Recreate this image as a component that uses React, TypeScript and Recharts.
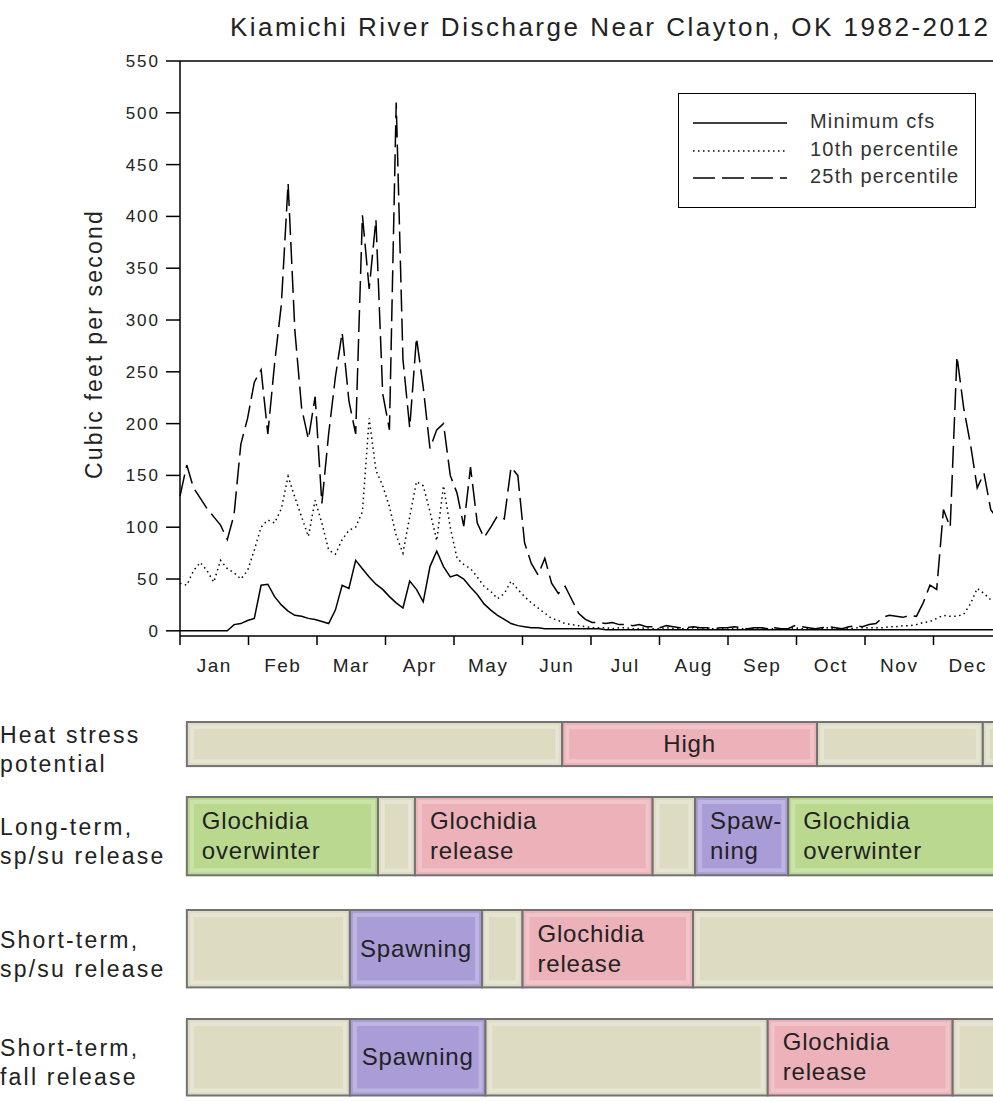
import React from 'react';
import { LineChart, Line, XAxis, YAxis, ReferenceLine, Legend, BarChart, Bar } from 'recharts';

// ---- discharge (cfs), one value every 3 days from Jan 1 ----
const STEP_DAYS = 3;

const p25 = [
  130, 160, 138, 128, 118, 110, 102, 88, 112, 180, 205, 240, 252, 190, 258, 315, 432, 290, 215, 185,
  226, 123, 190, 245, 288, 222, 190, 401, 330, 397, 229, 194, 510, 262, 196, 283, 235, 176, 194, 200,
  150, 133, 101, 158, 104, 90, 100, 111, 108, 158, 150, 85, 65, 54, 70, 46, 36, 43, 30, 17,
  11, 8, 8, 7, 8, 6, 6, 5, 6, 4, 4, 3, 5, 4, 3, 3, 4, 3, 3, 2,
  3, 3, 4, 3, 2, 3, 3, 2, 3, 2, 2, 5, 4, 3, 2, 3, 4, 3, 2, 4,
  5, 4, 6, 7, 13, 15, 14, 13, 15, 14, 27, 44, 40, 117, 100, 265, 215, 180, 138, 152,
  117, 108,
];

const p10 = [
  46, 44, 58, 66, 58, 47, 68, 60, 56, 50, 58, 78, 100, 107, 104, 118, 149, 129, 110, 91,
  126, 104, 78, 74, 88, 97, 100, 115, 205, 155, 140, 120, 92, 75, 110, 144, 140, 115, 87, 140,
  100, 70, 64, 60, 52, 43, 38, 31, 36, 48, 40, 33, 27, 22, 17, 12, 10, 7, 6, 5,
  4, 3, 3, 3, 2, 3, 3, 2, 2, 3, 2, 2, 3, 2, 2, 2, 3, 2, 2, 2,
  2, 3, 2, 2, 2, 2, 3, 2, 2, 2, 2, 3, 2, 2, 2, 2, 3, 2, 2, 2,
  3, 3, 3, 3, 3, 4, 4, 5, 5, 6, 8, 9, 12, 15, 14, 14, 16, 26, 41, 36,
  30, 26,
];

const minCfs = [
  0, 0, 0, 0, 0, 0, 0, 0, 6, 7, 10, 12, 44, 45, 33, 25, 19, 15, 14, 12,
  11, 9, 7, 20, 44, 41, 68, 60, 52, 45, 40, 33, 27, 22, 48, 40, 28, 62, 77, 62,
  52, 54, 50, 42, 35, 26, 20, 15, 11, 7, 5, 4, 3, 3, 2, 2, 2, 2, 2, 2,
  2, 2, 2, 1, 1, 1, 1, 1, 1, 1, 1, 1, 1, 1, 1, 1, 1, 1, 1, 1,
  1, 1, 1, 1, 1, 1, 1, 1, 1, 1, 1, 1, 1, 1, 1, 1, 1, 1, 1, 1,
  1, 1, 1, 1, 1, 1, 1, 1, 1, 1, 1, 1, 1, 1, 1, 1, 1, 1, 1, 1,
  1, 1,
];

const months = ['Jan', 'Feb', 'Mar', 'Apr', 'May', 'Jun', 'Jul', 'Aug', 'Sep', 'Oct', 'Nov', 'Dec'];
const yTicks = [0, 50, 100, 150, 200, 250, 300, 350, 400, 450, 500, 550];

const series = [
  { key: 'min', name: 'Minimum cfs', dash: undefined as string | undefined },
  { key: 'p10', name: '10th percentile', dash: '1.5 3.5' },
  { key: 'p25', name: '25th percentile', dash: '22 7' },
];

const flowData = p25.map((v, i) => ({ day: i * STEP_DAYS, p25: v, p10: p10[i], min: minCfs[i] }));
const monthEdges = [...months.map((_, i) => (i * 365) / 12), 365];

// ---- life-history bars, boundaries in months on the same axis ----
type Seg = { label: string; kind: 'none' | 'high' | 'release' | 'overwinter' | 'spawning'; end: number };
const ROW_START = 0.1;

const heatStress: Seg[] = [
  { label: '', kind: 'none', end: 5.58 },
  { label: 'High', kind: 'high', end: 9.3 },
  { label: '', kind: 'none', end: 11.72 },
  { label: '', kind: 'none', end: 12 },
];
const longTerm: Seg[] = [
  { label: 'Glochidia|overwinter', kind: 'overwinter', end: 2.89 },
  { label: '', kind: 'none', end: 3.43 },
  { label: 'Glochidia|release', kind: 'release', end: 6.9 },
  { label: '', kind: 'none', end: 7.52 },
  { label: 'Spaw-|ning', kind: 'spawning', end: 8.88 },
  { label: 'Glochidia|overwinter', kind: 'overwinter', end: 12 },
];
const shortSpring: Seg[] = [
  { label: '', kind: 'none', end: 2.48 },
  { label: 'Spawning', kind: 'spawning', end: 4.41 },
  { label: '', kind: 'none', end: 5.0 },
  { label: 'Glochidia|release', kind: 'release', end: 7.49 },
  { label: '', kind: 'none', end: 12 },
];
const shortFall: Seg[] = [
  { label: '', kind: 'none', end: 2.48 },
  { label: 'Spawning', kind: 'spawning', end: 4.46 },
  { label: '', kind: 'none', end: 8.58 },
  { label: 'Glochidia|release', kind: 'release', end: 11.28 },
  { label: '', kind: 'none', end: 12 },
];

const rowNames = ['Heat stress|potential', 'Long-term,|sp/su release', 'Short-term,|sp/su release', 'Short-term,|fall release'];
const rowSegs = [heatStress, longTerm, shortSpring, shortFall];

// layout of each bar row on the page
const rowLayout = [
  { top: 720, height: 49 },
  { top: 793, height: 87 },
  { top: 906, height: 86 },
  { top: 1015, height: 85 },
];

const kindColor: Record<Seg['kind'], string> = {
  none: '#dedbc3',
  high: '#ecb1b9',
  release: '#ecb1b9',
  overwinter: '#bad98f',
  spawning: '#a99cd7',
};

const CHART_W = 1010;
const AXIS_W = 180;
const RIGHT = 8;
const HALF_MONTH_PX = (CHART_W - AXIS_W - RIGHT) / 24;
const TEXT = '#222';

const MonthTick = (props: any) => {
  const { x, y, payload } = props;
  const i = Math.round(payload.value / (365 / 12));
  if (i >= 12) return <g />;
  return (
    <text x={x + HALF_MONTH_PX} y={y + 25} textAnchor="middle" fill={TEXT} fontSize={19} style={{ letterSpacing: '1.5px' }}>
      {months[i]}
    </text>
  );
};

const YTitle = () => (
  <text
    x={94}
    y={344}
    transform="rotate(-90 94 344)"
    textAnchor="middle"
    dominantBaseline="central"
    fill={TEXT}
    fontSize={23}
    style={{ letterSpacing: '2.2px' }}
  >
    Cubic feet per second
  </text>
);

const FlowLegend = () => (
  <div
    style={{
      position: 'relative',
      width: 298,
      height: 115,
      border: '1.5px solid #000',
      boxSizing: 'border-box',
      background: '#fff',
    }}
  >
    {series.map((s, i) => (
      <div key={s.key} style={{ position: 'absolute', left: 0, top: 16 + i * 27.5, height: 26, width: '100%' }}>
        <svg width={110} height={26} style={{ position: 'absolute', left: 14, top: 0 }}>
          <line x1={0} x2={94} y1={13} y2={13} stroke="#000" strokeWidth={1.5} strokeDasharray={s.dash} />
        </svg>
        <span
          style={{
            position: 'absolute',
            left: 131,
            top: 0,
            fontSize: 20,
            color: '#333',
            letterSpacing: '1.2px',
            whiteSpace: 'nowrap',
          }}
        >
          {s.name}
        </span>
      </div>
    ))}
  </div>
);

const RowLabel = (props: any) => {
  const { y, payload } = props;
  const lines = String(payload.value).split('|');
  return (
    <text x={0} fill={TEXT} fontSize={23} style={{ letterSpacing: '2.2px' }}>
      {lines.map((t, i) => (
        <tspan key={i} x={0} y={y + 5 - 14.5 + 8 + i * 29}>
          {t}
        </tspan>
      ))}
    </text>
  );
};

const Segment = (props: any) => {
  const { x, y, width, height, fill, label } = props;
  if (!width || width <= 0) return <g />;
  const lines = label ? String(label).split('|') : [];
  const cy = y + height / 2;
  return (
    <g>
      <rect x={x} y={y} width={width} height={height} fill={fill} stroke="#727272" strokeWidth={2} />
      <rect
        x={x + 5}
        y={y + 5}
        width={Math.max(0, width - 10)}
        height={Math.max(0, height - 10)}
        fill="none"
        stroke="rgba(255,255,255,0.25)"
        strokeWidth={4}
      />
      {lines.length === 1 && (
        <text x={x + width / 2} y={cy + 8} textAnchor="middle" fill={TEXT} fontSize={24} style={{ letterSpacing: '0.8px' }}>
          {lines[0]}
        </text>
      )}
      {lines.length === 2 && (
        <text fill={TEXT} fontSize={24} style={{ letterSpacing: '0.8px' }}>
          <tspan x={x + 15} y={cy - 15 + 8}>
            {lines[0]}
          </tspan>
          <tspan x={x + 15} y={cy + 15 + 8}>
            {lines[1]}
          </tspan>
        </text>
      )}
    </g>
  );
};

const PAD = 15;

function ActivityRow({ index }: { index: number }) {
  const segs = rowSegs[index];
  const { top, height } = rowLayout[index];
  const row: Record<string, number | string> = { name: rowNames[index], pad: ROW_START };
  let prev = ROW_START;
  segs.forEach((s, j) => {
    row[`s${j}`] = s.end - prev;
    prev = s.end;
  });
  return (
    <div style={{ position: 'absolute', left: 0, top: top - PAD }}>
      <BarChart
        width={CHART_W}
        height={height + PAD * 2}
        data={[row]}
        layout="vertical"
        margin={{ top: PAD, right: RIGHT, bottom: PAD, left: 0 }}
        barCategoryGap={0}
      >
        <XAxis type="number" domain={[0, 12]} hide />
        <YAxis type="category" dataKey="name" width={AXIS_W} axisLine={false} tickLine={false} tick={<RowLabel />} />
        <Bar dataKey="pad" stackId="a" fill="transparent" barSize={height} isAnimationActive={false} />
        {segs.map((s, j) => (
          <Bar
            key={j}
            dataKey={`s${j}`}
            stackId="a"
            fill={kindColor[s.kind]}
            barSize={height}
            isAnimationActive={false}
            shape={(p: any) => <Segment {...p} label={s.label} />}
          />
        ))}
      </BarChart>
    </div>
  );
}

export default function App() {
  return (
    <div
      style={{
        position: 'absolute',
        left: 0,
        top: 0,
        width: 993,
        height: 1102,
        overflow: 'hidden',
        background: '#fff',
        fontFamily: '"Liberation Sans", Arial, sans-serif',
      }}
    >
      <div
        style={{
          position: 'absolute',
          left: 230,
          top: 12,
          fontSize: 26,
          color: TEXT,
          letterSpacing: '2.5px',
          whiteSpace: 'nowrap',
        }}
      >
        Kiamichi River Discharge Near Clayton, OK 1982-2012
      </div>

      <div style={{ position: 'absolute', left: 0, top: 0 }}>
        <LineChart width={CHART_W} height={690} data={flowData} margin={{ top: 61, right: RIGHT, bottom: 0, left: 0 }}>
          <XAxis
            dataKey="day"
            type="number"
            domain={[0, 365]}
            ticks={monthEdges}
            interval={0}
            height={54}
            axisLine={{ stroke: '#000', strokeWidth: 1.5 }}
            tickLine={{ stroke: '#000', strokeWidth: 1.5 }}
            tickSize={9}
            tick={<MonthTick />}
          />
          <YAxis
            type="number"
            domain={[-5, 550]}
            ticks={yTicks}
            interval={0}
            width={AXIS_W}
            axisLine={{ stroke: '#000', strokeWidth: 1.5 }}
            tickLine={{ stroke: '#000', strokeWidth: 1.5 }}
            tickSize={14}
            tickMargin={6}
            tick={{ fill: TEXT, fontSize: 17, style: { letterSpacing: '2px' } }}
            label={<YTitle />}
          />
          <ReferenceLine y={550} stroke="#000" strokeWidth={1.5} />
          {series.map((s) => (
            <Line
              key={s.key}
              dataKey={s.key}
              name={s.name}
              type="linear"
              stroke="#000"
              strokeWidth={1.5}
              strokeDasharray={s.dash}
              dot={false}
              isAnimationActive={false}
            />
          ))}
          <Legend
            layout="vertical"
            align="center"
            verticalAlign="middle"
            wrapperStyle={{ left: 678, top: 93, width: 298, height: 115 }}
            content={<FlowLegend />}
          />
        </LineChart>
      </div>

      {rowNames.map((_, i) => (
        <ActivityRow key={i} index={i} />
      ))}
    </div>
  );
}
